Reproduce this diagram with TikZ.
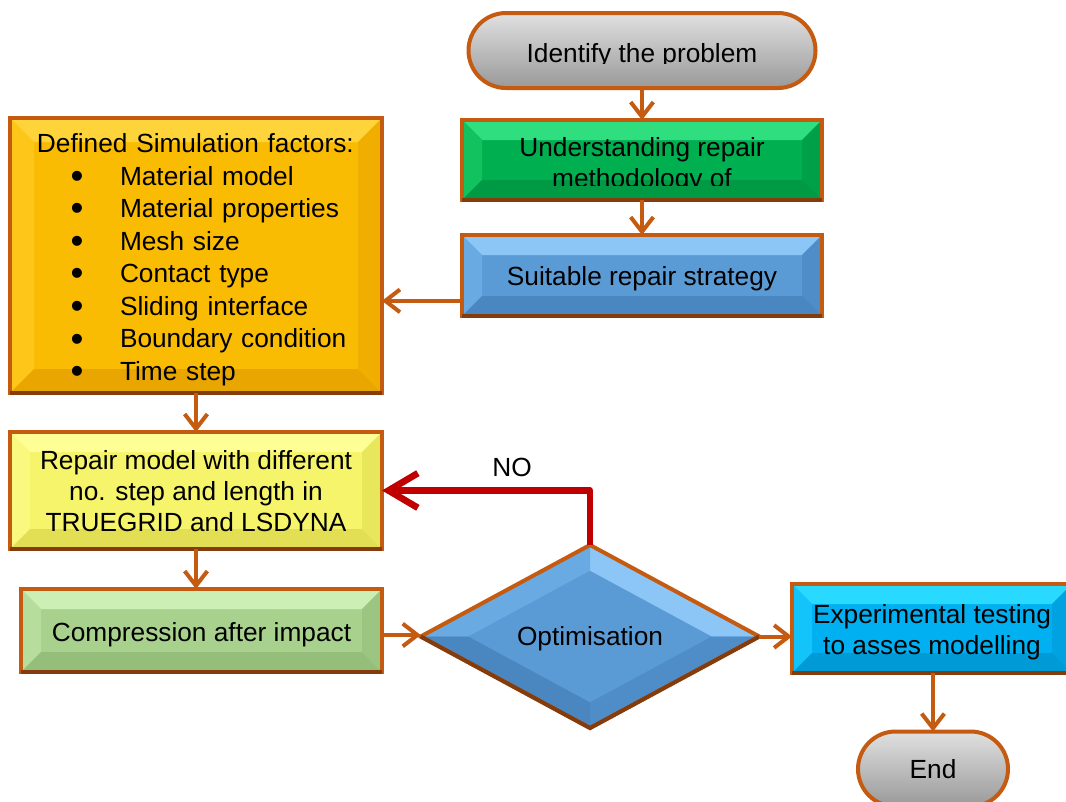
\documentclass[tikz,border=0pt]{standalone}
\usepackage{fontspec}
\setmainfont{Liberation Sans}
\usetikzlibrary{arrows.meta,calc,shapes.geometric,shapes.misc}

% frame and connector colours
\definecolor{rim}{HTML}{C55A11}
\definecolor{rimdark}{HTML}{843C0C}
\definecolor{noline}{HTML}{C00000}
% box fills: base, top face, left face, right face, bottom face
\definecolor{orA}{HTML}{FABC02}\definecolor{orT}{HTML}{FFD43A}\definecolor{orL}{HTML}{FFC61A}\definecolor{orR}{HTML}{EFAE00}\definecolor{orB}{HTML}{E9A600}
\definecolor{grA}{HTML}{00B050}\definecolor{grT}{HTML}{2FDE7E}\definecolor{grL}{HTML}{12C25E}\definecolor{grR}{HTML}{00A048}\definecolor{grB}{HTML}{009A44}
\definecolor{blA}{HTML}{5B9BD5}\definecolor{blT}{HTML}{8CC6F6}\definecolor{blL}{HTML}{6AAAE2}\definecolor{blR}{HTML}{4F8DC8}\definecolor{blB}{HTML}{4A86C0}
\definecolor{yeA}{HTML}{F6F46A}\definecolor{yeT}{HTML}{FFFF95}\definecolor{yeL}{HTML}{FAF87E}\definecolor{yeR}{HTML}{E8E65A}\definecolor{yeB}{HTML}{E2DF55}
\definecolor{lgA}{HTML}{A9D18E}\definecolor{lgT}{HTML}{CBEFB4}\definecolor{lgL}{HTML}{B6DD9C}\definecolor{lgR}{HTML}{9BC580}\definecolor{lgB}{HTML}{94BE79}
\definecolor{cyA}{HTML}{00B0F0}\definecolor{cyT}{HTML}{28DAFF}\definecolor{cyL}{HTML}{12C4FA}\definecolor{cyR}{HTML}{00A2E0}\definecolor{cyB}{HTML}{009AD6}

% bevel depth (may be changed per node)
\newcommand\bv{15pt}
% line struts with the ascent and descent of the face; the top one may be raised
\newcommand\lnstrut{\rule[-0.212em]{0pt}{1.117em}}
\newcommand\topstrut[1]{\rule[-0.212em]{0pt}{\dimexpr 1.117em+#1\relax}}
% bulleted list entry
\newcommand\itm{\hspace*{45.5pt}\makebox[37pt][l]{\smash{\raisebox{-2.3pt}{\scalebox{1.4}{\textbullet}}}}}

\tikzset{
  txt/.style={font=\fontsize{19.7pt}{23.3pt}\selectfont, text=black, align=center, inner sep=0pt,
    execute at begin node={\lnstrut}, execute at end node={\lnstrut}},
  nudge/.style={execute at begin node={\topstrut{#1}}},
  frame/.style={draw=rim, line width=3pt},
  bevelbox/.style n args={5}{rectangle, inner sep=0pt, outer sep=0pt, frame, fill=#1, txt,
    path picture={
      \fill[#2] (path picture bounding box.north west) -- (path picture bounding box.north east)
        -- ([shift={(-\bv,-\bv)}]path picture bounding box.north east)
        -- ([shift={(\bv,-\bv)}]path picture bounding box.north west) -- cycle;
      \fill[#3] (path picture bounding box.north west) -- ([shift={(\bv,-\bv)}]path picture bounding box.north west)
        -- ([shift={(\bv,\bv)}]path picture bounding box.south west)
        -- (path picture bounding box.south west) -- cycle;
      \fill[#4] (path picture bounding box.north east) -- ([shift={(-\bv,-\bv)}]path picture bounding box.north east)
        -- ([shift={(-\bv,\bv)}]path picture bounding box.south east)
        -- (path picture bounding box.south east) -- cycle;
      \fill[#5] (path picture bounding box.south west) -- (path picture bounding box.south east)
        -- ([shift={(-\bv,\bv)}]path picture bounding box.south east)
        -- ([shift={(\bv,\bv)}]path picture bounding box.south west) -- cycle;
    }},
  terminal/.style={rounded rectangle, inner sep=0pt, outer sep=0pt, frame, txt,
    shading=axis, top color=black!12, middle color=black!30, bottom color=black!40},
  decision/.style={diamond, inner sep=0pt, outer sep=0pt, frame, fill=blA, txt,
    path picture={
      \coordinate (pc) at (path picture bounding box.center);
      \fill[blT] (path picture bounding box.north) -- (path picture bounding box.east)
        -- ($(pc)!0.72!(path picture bounding box.east)$) -- ($(pc)!0.72!(path picture bounding box.north)$) -- cycle;
      \fill[blL] (path picture bounding box.north) -- (path picture bounding box.west)
        -- ($(pc)!0.72!(path picture bounding box.west)$) -- ($(pc)!0.72!(path picture bounding box.north)$) -- cycle;
      \fill[blR] (path picture bounding box.south) -- (path picture bounding box.east)
        -- ($(pc)!0.72!(path picture bounding box.east)$) -- ($(pc)!0.72!(path picture bounding box.south)$) -- cycle;
      \fill[blB] (path picture bounding box.south) -- (path picture bounding box.west)
        -- ($(pc)!0.72!(path picture bounding box.west)$) -- ($(pc)!0.72!(path picture bounding box.south)$) -- cycle;
    }},
  arr/.style={draw=rim, line width=3pt, -{Straight Barb[length=11pt,width=17pt]}},
  noarr/.style={draw=noline, line width=5pt, line join=round, -{Straight Barb[length=22pt,width=26pt]}},
  shadowedge/.style={draw=rimdark, line width=3pt},
}

\begin{document}
\begin{tikzpicture}[x=0.75pt,y=-0.75pt]
  \useasboundingbox (0,0) rectangle (1066,801);
  \clip (0,0) rectangle (1066,801);

  % start terminal
  \node[terminal, minimum width=260.25pt, minimum height=56.25pt] (identify) at (642,50.5) {};
  \begin{scope}
    \clip (400,0) rectangle (900,63);
    \node[txt] (identifytxt) at (642,52.9) {Identify the problem};
  \end{scope}

  % process boxes, right column
  \node[bevelbox={grA}{grT}{grL}{grR}{grB}, minimum width=270pt, minimum height=60pt] (understand) at (642,160) {};
  \begin{scope}
    \clip (462,120) rectangle (822,185);
    \node[txt] (understandtxt) at (642,165) {Understanding repair\\methodology of};
  \end{scope}
  \node[bevelbox={blA}{blT}{blL}{blR}{blB}, nudge=1.5pt, minimum width=270pt, minimum height=60.75pt] (strategy) at (642,275.5) {Suitable repair strategy};

  % left column
  \node[bevelbox={orA}{orT}{orL}{orR}{orB}, nudge=3pt, /utils/exec={\def\bv{18pt}}, minimum width=279pt, minimum height=206.25pt,
        text width=279pt, align=left, font=\fontsize{19.7pt}{24.4pt}\selectfont] (factors) at (196,255.5)
    {\hspace*{20.25pt}Defined Simulation factors:\\
     \itm Material model\\
     \itm Material properties\\
     \itm Mesh size\\
     \itm Contact type\\
     \itm Sliding interface\\
     \itm Boundary condition\\
     \itm Time step};
  \node[bevelbox={yeA}{yeT}{yeL}{yeR}{yeB}, nudge=1.5pt, text width=279pt, align=flush center, minimum width=279pt, minimum height=87.75pt] (model) at (196,490.5)
    {Repair model with different\\no. step and length in\\TRUEGRID and LSDYNA};
  \node[bevelbox={lgA}{lgT}{lgL}{lgR}{lgB}, nudge=3pt, minimum width=270.75pt, minimum height=62.25pt] (cai) at (201.5,630.5)
    {Compression after impact};

  % decision and final steps
  \node[decision, minimum width=254pt, minimum height=137.25pt] (opt) at (590,636.5) {Optimisation};
  \node[bevelbox={cyA}{cyT}{cyL}{cyR}{cyB}, nudge=2.25pt, text width=210pt, align=flush center, minimum width=210pt, minimum height=66.75pt] (exp) at (932,628.5)
    {Experimental testing\\to asses modelling};
  \node[terminal, minimum width=112.5pt, minimum height=56.25pt] (end) at (933,769) {End};

  % darker lower rims
  \foreach \b in {understand,strategy,factors,model,cai,exp}
    \draw[shadowedge] (\b.south west) -- (\b.south east);
  \draw[shadowedge, line join=miter] (opt.west) -- (opt.south) -- (opt.east);

  % connectors
  \draw[arr] (identify.south) -- (understand.north);
  \draw[arr] (understand.south) -- (strategy.north);
  \coordinate (stratout) at ([yshift=-19pt]strategy.west);
  \draw[arr] (stratout) -- (stratout -| factors.east);
  \draw[arr] (factors.south) -- (model.north);
  \draw[arr] (model.south) -- (model.south |- cai.north);
  \draw[arr] (cai.east |- 0,635) -- (opt.west |- 0,635);
  \draw[arr] (opt.east) -- (exp.west |- opt.east);
  \draw[arr] (exp.south -| end.north) -- (end.north);
  \draw[noarr] (opt.north) |- (model.east);
  \node[txt] (no) at (512,467) {NO};
\end{tikzpicture}
\end{document}
